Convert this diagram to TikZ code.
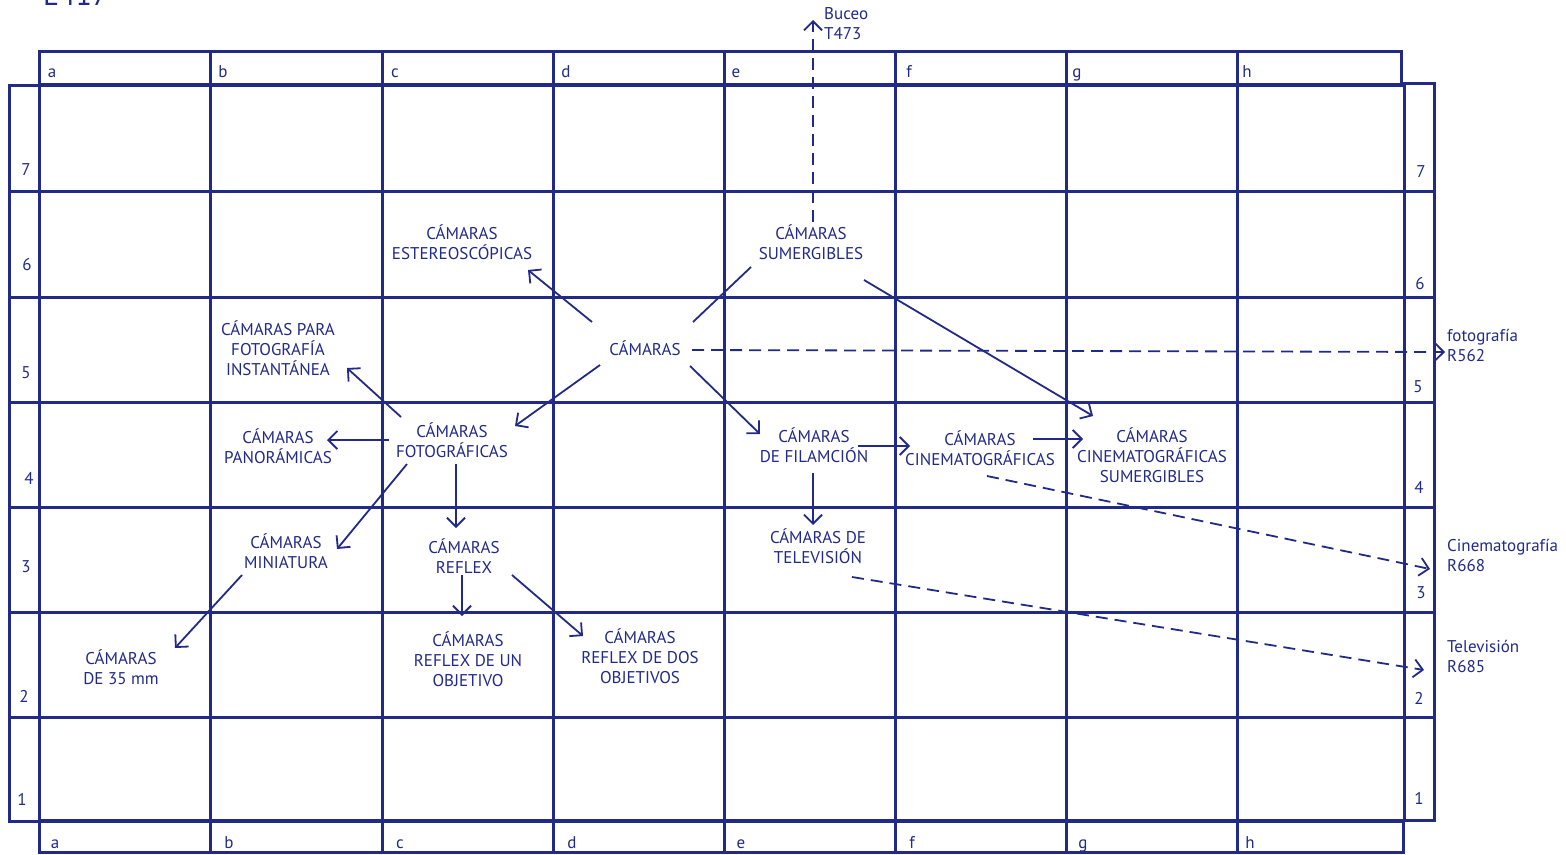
\documentclass[tikz,border=0pt]{standalone}
\usepackage{fontspec}
\setmainfont{PT Sans}
\usetikzlibrary{arrows.meta}
\definecolor{ink}{RGB}{34,42,135}
\begin{document}
\begin{tikzpicture}[x=1pt,y=-1pt,
  grid/.style={draw=ink, line width=3pt},
  lab/.style={text=ink, font=\fontsize{17}{20}\selectfont, inner sep=0pt, anchor=base},
  box/.style={text=ink, font=\fontsize{17}{20}\selectfont, align=center, inner sep=0pt, text height=14pt, text depth=2pt},
  two/.style={text height=34pt},
  three/.style={text height=54pt},
  side/.style={box, two, align=left, anchor=west},
  link/.style={draw=ink, line width=1.8pt},
  arr/.style={link, -{Straight Barb[length=9pt,width=18pt,line width=1.8pt]}},
  dashlink/.style={arr, dash pattern=on 12pt off 7pt},
]
\useasboundingbox (0,0) rectangle (1566,854);

% cut-off code at the top
\node[text=ink, font=\fontsize{30}{30}\selectfont, anchor=base west, inner sep=0pt] (code) at (43,5) {E417};

% top header
\draw[grid] (39,51) rectangle (1401,84);
\foreach \x in {210,382,553,724,895,1066,1237} \draw[grid] (\x,51) -- (\x,84);
% bottom header
\draw[grid] (39,821) rectangle (1403,852);
\foreach \x in {210,382,553,724,895,1066,1237} \draw[grid] (\x,821) -- (\x,852);
% left and right columns
\draw[grid] (9,85) rectangle (39,821);
\draw[grid] (1404,83) rectangle (1434,820);
% main grid
\draw[grid] (39,85) rectangle (1404,820);
\foreach \x in {210,382,553,724,895,1066,1237} \draw[grid] (\x,85) -- (\x,820);
\foreach \y in {191,297,402,507,612,717} \draw[grid] (9,\y) -- (1434,\y);

% column letters
\foreach \x/\t in {52/a,223/b,395/c,566/d,736/e,909/f,1077/g,1247/h}
  \node[lab] (top\t) at (\x,77) {\t};
\foreach \x/\t in {55/a,229/b,400/c,572/d,741/e,912/f,1083/g,1250/h}
  \node[lab] (bot\t) at (\x,848) {\t};
% row numbers
\foreach \x/\y/\t in {26/175/7,27/270/6,26/378/5,29/484/4,26/572/3,24/702/2,22/805/1}
  \node[lab] (left\t) at (\x,\y) {\t};
\foreach \x/\y/\t in {1421/177/7,1420/289/6,1418/392/5,1419/493/4,1421/598/3,1419/704/2,1419/804/1}
  \node[lab] (right\t) at (\x,\y) {\t};

% concept nodes
\node[box] (cam) at (645,349) {CÁMARAS};
\node[box,two] (est) at (462,243) {CÁMARAS\\ESTEREOSCÓPICAS};
\node[box,two] (sum) at (811,243) {CÁMARAS\\SUMERGIBLES};
\node[box,three] (ins) at (278,349) {CÁMARAS PARA\\FOTOGRAFÍA\\INSTANTÁNEA};
\node[box,two] (fot) at (452,441) {CÁMARAS\\FOTOGRÁFICAS};
\node[box,two] (pan) at (278,447) {CÁMARAS\\PANORÁMICAS};
\node[box,two] (min) at (286,552) {CÁMARAS\\MINIATURA};
\node[box,two] (ref) at (464,557) {CÁMARAS\\REFLEX};
\node[box,two] (c35) at (121,668) {CÁMARAS\\DE 35 mm};
\node[box,three] (un) at (468,660) {CÁMARAS\\REFLEX DE UN\\OBJETIVO};
\node[box,three] (dos) at (640,657) {CÁMARAS\\REFLEX DE DOS\\OBJETIVOS};
\node[box,two] (fil) at (814,446) {CÁMARAS\\DE FILAMCIÓN};
\node[box,two] (cin) at (980,449) {CÁMARAS\\CINEMATOGRÁFICAS};
\node[box,three] (cs) at (1152,456) {CÁMARAS\\CINEMATOGRÁFICAS\\SUMERGIBLES};
\node[box,two] (tv) at (818,547) {CÁMARAS DE\\TELEVISIÓN};
% cross references
\node[side] (buceo) at (824,23) {Buceo\\T473};
\node[side] (foto) at (1447,345) {fotografía\\R562};
\node[side] (cine) at (1447,555) {Cinematografía\\R668};
\node[side] (tel) at (1447,656) {Televisión\\R685};

% connectors
\draw[arr] ([shift={(-53,-27)}]cam.center) -- ([shift={(66,27)}]est.center);
\draw[link] ([shift={(48,-27)}]cam.center) -- ([shift={(-60,24)}]sum.center);
\draw[dashlink] ([shift={(47,1)}]cam.center) -- ([shift={(-2,7)}]foto.west);
\draw[arr] ([shift={(-45,16)}]cam.center) -- ([shift={(63,-15)}]fot.center);
\draw[arr] ([shift={(45,17)}]cam.center) -- ([shift={(-54,-12)}]fil.center);
\draw[arr] ([shift={(53,37)}]sum.center) -- ([shift={(-59,-40)}]cs.center);
\draw[dashlink] ([shift={(2,-21)}]sum.center) -- ([shift={(-11,-3)}]buceo.west);
\draw[arr] ([shift={(-51,-24)}]fot.center) -- ([shift={(69,19)}]ins.center);
\draw[arr] ([shift={(-63,-1)}]fot.center) -- ([shift={(49,-7)}]pan.center);
\draw[arr] ([shift={(-45,23)}]fot.center) -- ([shift={(51,-3)}]min.center);
\draw[arr] ([shift={(4,23)}]fot.center) -- ([shift={(-8,-29)}]ref.center);
\draw[arr] ([shift={(-44,23)}]min.center) -- ([shift={(54,-20)}]c35.center);
\draw[arr] ([shift={(-2,18)}]ref.center) -- ([shift={(-6,-44)}]un.center);
\draw[arr] ([shift={(48,18)}]ref.center) -- ([shift={(-57,-21)}]dos.center);
\draw[arr] ([shift={(44,0)}]fil.center) -- ([shift={(-70,-3)}]cin.center);
\draw[arr] ([shift={(53,-10)}]cin.center) -- ([shift={(-69,-17)}]cs.center);
\draw[arr] ([shift={(-1,27)}]fil.center) -- ([shift={(-5,-22)}]tv.center);
\draw[dashlink] ([shift={(7,27)}]cin.center) -- ([shift={(-17,14)}]cine.west);
\draw[dashlink] ([shift={(34,30)}]tv.center) -- ([shift={(-23,14)}]tel.west);
\end{tikzpicture}
\end{document}
